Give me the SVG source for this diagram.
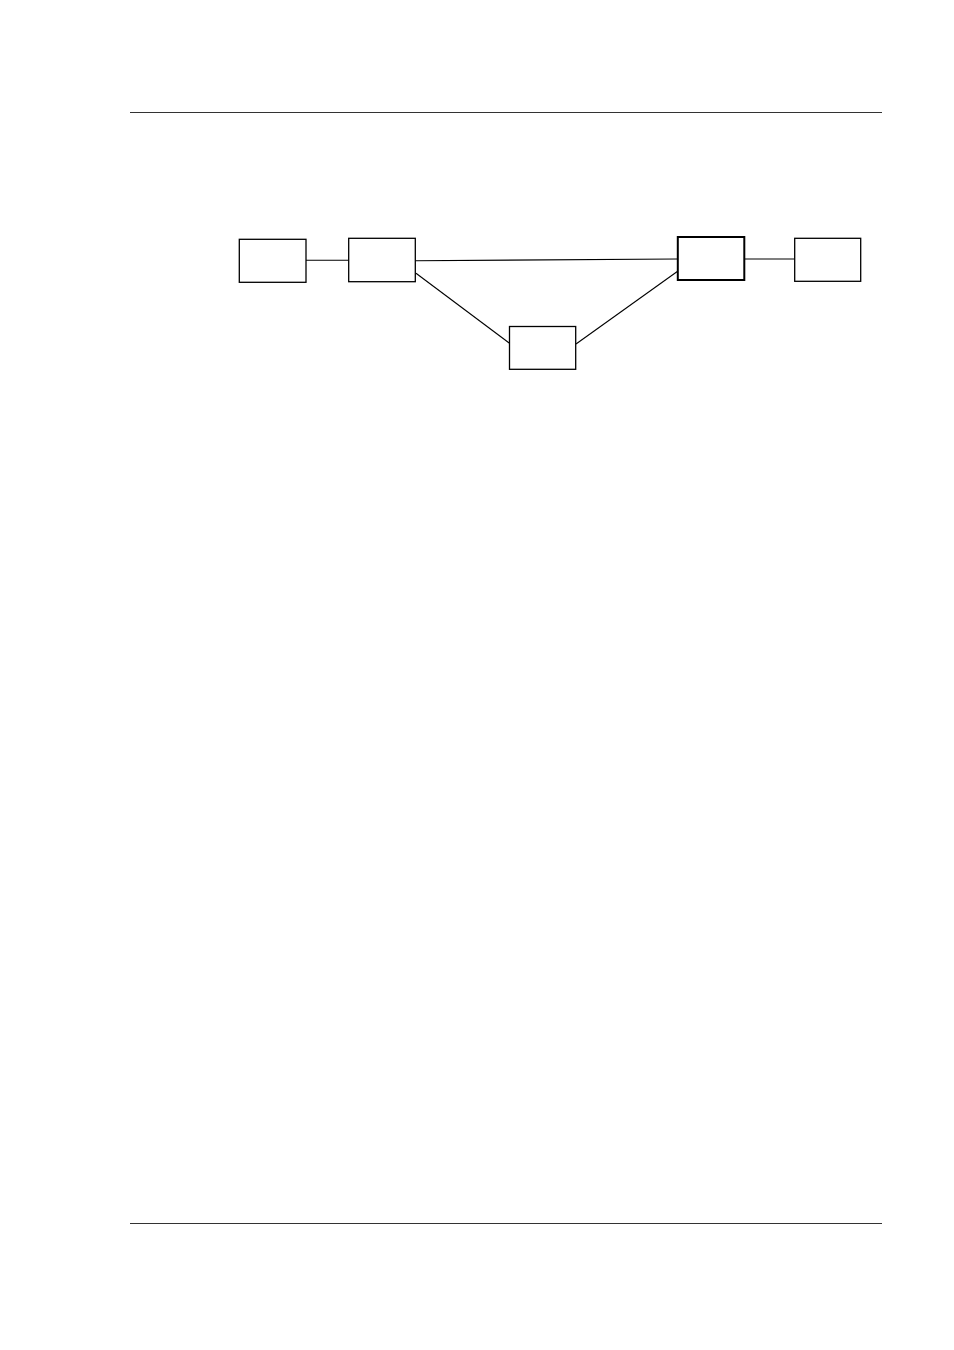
<svg xmlns="http://www.w3.org/2000/svg" width="954" height="1350" viewBox="0 0 954 1350">
<style>
.box{fill:#fff;stroke:#000;stroke-width:1.3}
.bold{stroke-width:2}
.conn line{stroke:#000;stroke-width:1.1}
.rule{stroke:#333;stroke-width:1.1}
</style>
<rect width="954" height="1350" fill="#fff"/>
<line class="rule" x1="130" y1="112.5" x2="882" y2="112.5"/>
<line class="rule" x1="130" y1="1223.5" x2="882" y2="1223.5"/>
<g id="connectors" class="conn">
<line x1="306" y1="260.3" x2="348.7" y2="260.3"/>
<line x1="415.3" y1="260.8" x2="677.3" y2="259"/>
<line x1="744.3" y1="259" x2="794.7" y2="259"/>
<line x1="416" y1="273.3" x2="509.5" y2="343.3"/>
<line x1="576" y1="344" x2="678" y2="271"/>
</g>
<g id="node1"><rect class="box" x="239.3" y="239.3" width="66.7" height="43"/></g>
<g id="node2"><rect class="box" x="348.7" y="238.3" width="66.6" height="43.4"/></g>
<g id="node3"><rect class="box bold" x="677.8" y="237" width="66.5" height="43"/></g>
<g id="node4"><rect class="box" x="794.7" y="238.3" width="66" height="43"/></g>
<g id="node5"><rect class="box" x="509.5" y="326.5" width="66.2" height="42.8"/></g>
</svg>
